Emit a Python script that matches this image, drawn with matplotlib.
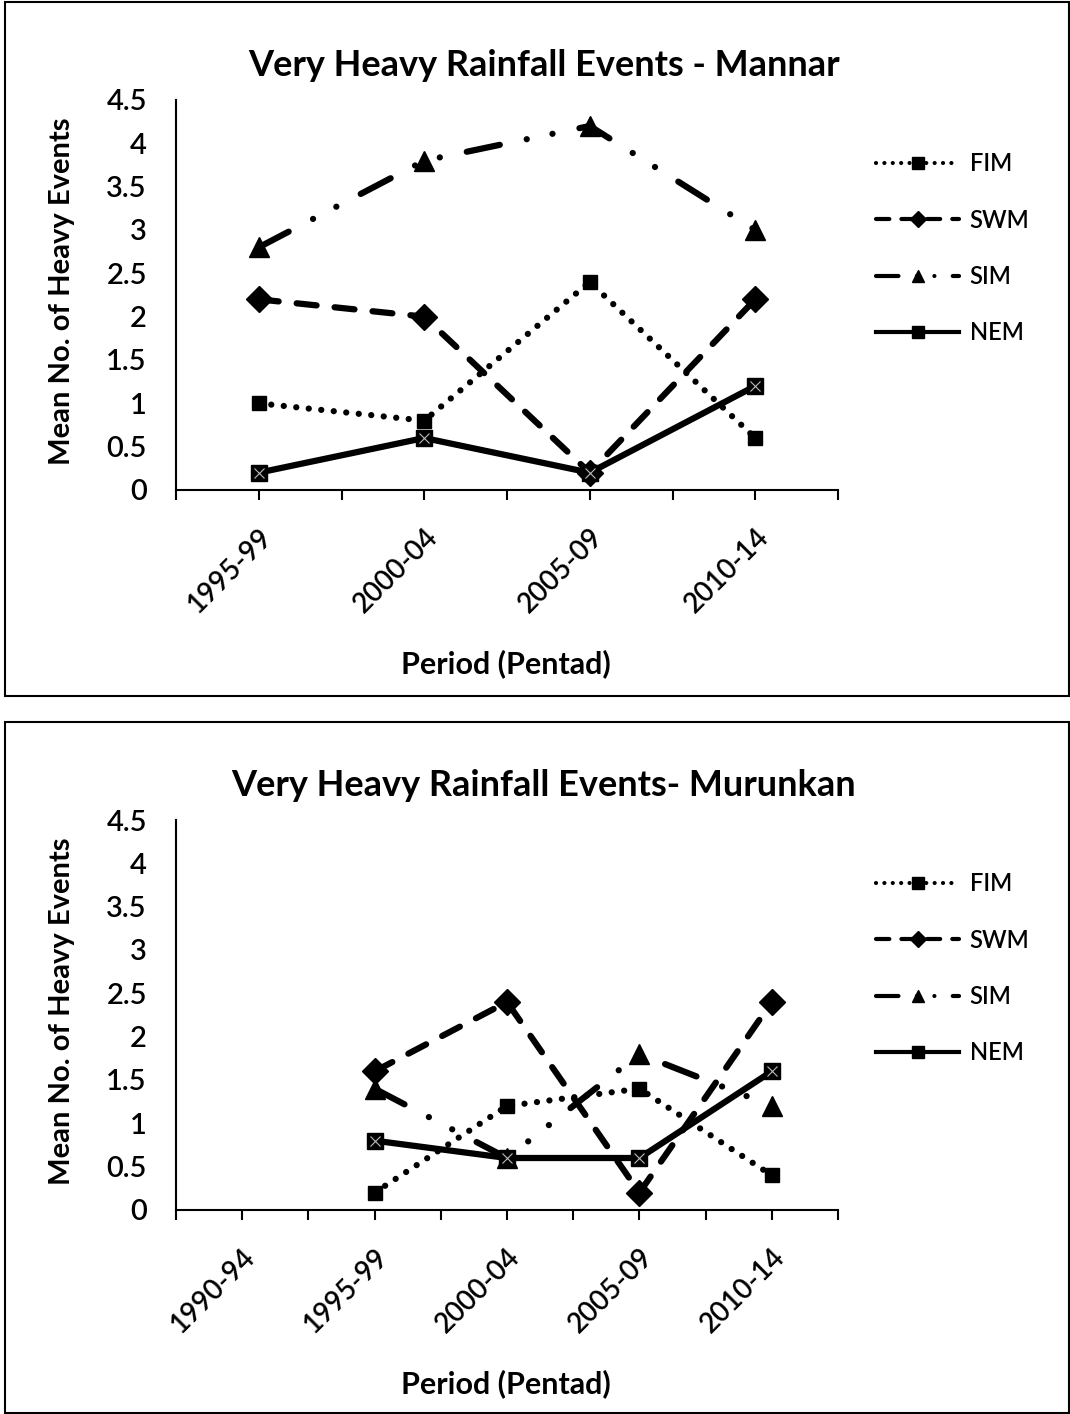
import numpy as np
import matplotlib
matplotlib.use("Agg")
import matplotlib.pyplot as plt
from matplotlib.lines import Line2D
from matplotlib.patches import Rectangle

plt.rcParams['font.family'] = ['Lato', 'DejaVu Sans']

# --- data ---
mannar_periods = ["1995-99", "2000-04", "2005-09", "2010-14"]
mannar_fim = [1.0, 0.8, 2.4, 0.6]
mannar_swm = [2.2, 2.0, 0.2, 2.2]
mannar_sim = [2.8, 3.8, 4.2, 3.0]
mannar_nem = [0.2, 0.6, 0.2, 1.2]

murunkan_periods = ["1990-94", "1995-99", "2000-04", "2005-09", "2010-14"]
murunkan_fim = [np.nan, 0.2, 1.2, 1.4, 0.4]
murunkan_swm = [np.nan, 1.6, 2.4, 0.2, 2.4]
murunkan_sim = [np.nan, 1.4, 0.6, 1.8, 1.2]
murunkan_nem = [np.nan, 0.8, 0.6, 0.6, 1.6]

series_names = ["FIM", "SWM", "SIM", "NEM"]

LW = 4.5
styles = {
    "FIM": dict(dashes=(0.01, 2.0), marker="s", ms=10, lg_ms=8),
    "SWM": dict(dashes=(3.2, 2.9), marker="D", ms=13, lg_ms=8),
    "SIM": dict(dashes=(5.4, 4.4, 0.01, 4.2, 0.01, 4.4), marker="^", ms=15, lg_ms=9),
    "NEM": dict(dashes=None, marker="s", ms=11, lg_ms=9),
}

W, H = 1070, 1414
fig = plt.figure(figsize=(W / 100, H / 100), dpi=100)


def fx(px):
    return px / W


def fy(py):
    return 1 - py / H


def draw_panel(top, title, periods, data, box):
    ax = fig.add_axes([fx(176), fy(top + 390), fx(662), 390 / H])
    x = np.arange(len(periods))
    for name, vals in zip(series_names, data):
        st = styles[name]
        kw = dict(color="black", lw=LW, marker=st["marker"], ms=st["ms"],
                  mfc="black", mec="black", dash_capstyle="round",
                  solid_capstyle="round", zorder=3)
        if st["dashes"] is None:
            ax.plot(x, vals, **kw)
        else:
            ax.plot(x, vals, dashes=st["dashes"], **kw)
        if name == "NEM":
            ax.plot(x, vals, ls="none", marker="x", ms=st["ms"] * 0.7,
                    mew=0.8, color="#bbbbbb", zorder=4)

    ax.set_xlim(-0.5, len(periods) - 0.5)
    ax.set_ylim(0, 4.5)
    ax.set_yticks(np.arange(0, 4.6, 0.5))
    ax.set_yticklabels(["0", "0.5", "1", "1.5", "2", "2.5", "3", "3.5", "4", "4.5"],
                       fontweight="semibold")
    ax.set_xticks(x)
    ax.set_xticks(np.arange(-0.5, len(periods), 1.0), minor=True)
    ax.set_xticklabels(periods, rotation=45, ha="right", rotation_mode="anchor",
                       fontweight="semibold")
    ax.tick_params(axis="y", length=0, pad=21, labelsize=21)
    ax.tick_params(axis="x", which="both", length=7, width=1.5, direction="out",
                   labelsize=20, pad=17)
    for s in ["top", "right"]:
        ax.spines[s].set_visible(False)
    for s in ["left", "bottom"]:
        ax.spines[s].set_linewidth(1.5)
    ax.patch.set_alpha(0)

    fig.text(fx(544), fy(top - 35), title, ha="center", va="center",
             fontsize=26, fontweight="bold")
    fig.text(fx(62), fy(top + 191), "Mean No. of Heavy Events", rotation=90,
             ha="center", va="center", fontsize=21, fontweight="bold")
    fig.text(fx(506), fy(top + 564), "Period (Pentad)", ha="center", va="center",
             fontsize=22, fontweight="bold")

    handles = []
    for name in series_names:
        st = styles[name]
        h = Line2D([], [], color="black", lw=3, marker=st["marker"], ms=st["lg_ms"],
                   mfc="black", mec="black", dash_capstyle="round")
        if st["dashes"] is not None:
            h.set_dashes(st["dashes"])
        handles.append(h)
    leg = ax.legend(handles, series_names, loc="upper left", frameon=False,
                    bbox_to_anchor=(fx(855), fy(top + 31)),
                    bbox_transform=fig.transFigure,
                    fontsize=17, handlelength=3.5, handletextpad=0.45,
                    labelspacing=1.41)
    for t in leg.get_texts():
        t.set_fontweight("semibold")

    x0, y0, x1, y1 = box
    fig.add_artist(Rectangle((fx(x0), fy(y1)), fx(x1 - x0), (y1 - y0) / H,
                             transform=fig.transFigure, fill=False,
                             lw=1.5, ec="black"))
    return ax


draw_panel(100, "Very Heavy Rainfall Events - Mannar", mannar_periods,
           [mannar_fim, mannar_swm, mannar_sim, mannar_nem], (5, 2, 1069, 696))
draw_panel(820, "Very Heavy Rainfall Events- Murunkan", murunkan_periods,
           [murunkan_fim, murunkan_swm, murunkan_sim, murunkan_nem], (5, 722, 1069, 1413))

fig.savefig("out.png", dpi=100)
